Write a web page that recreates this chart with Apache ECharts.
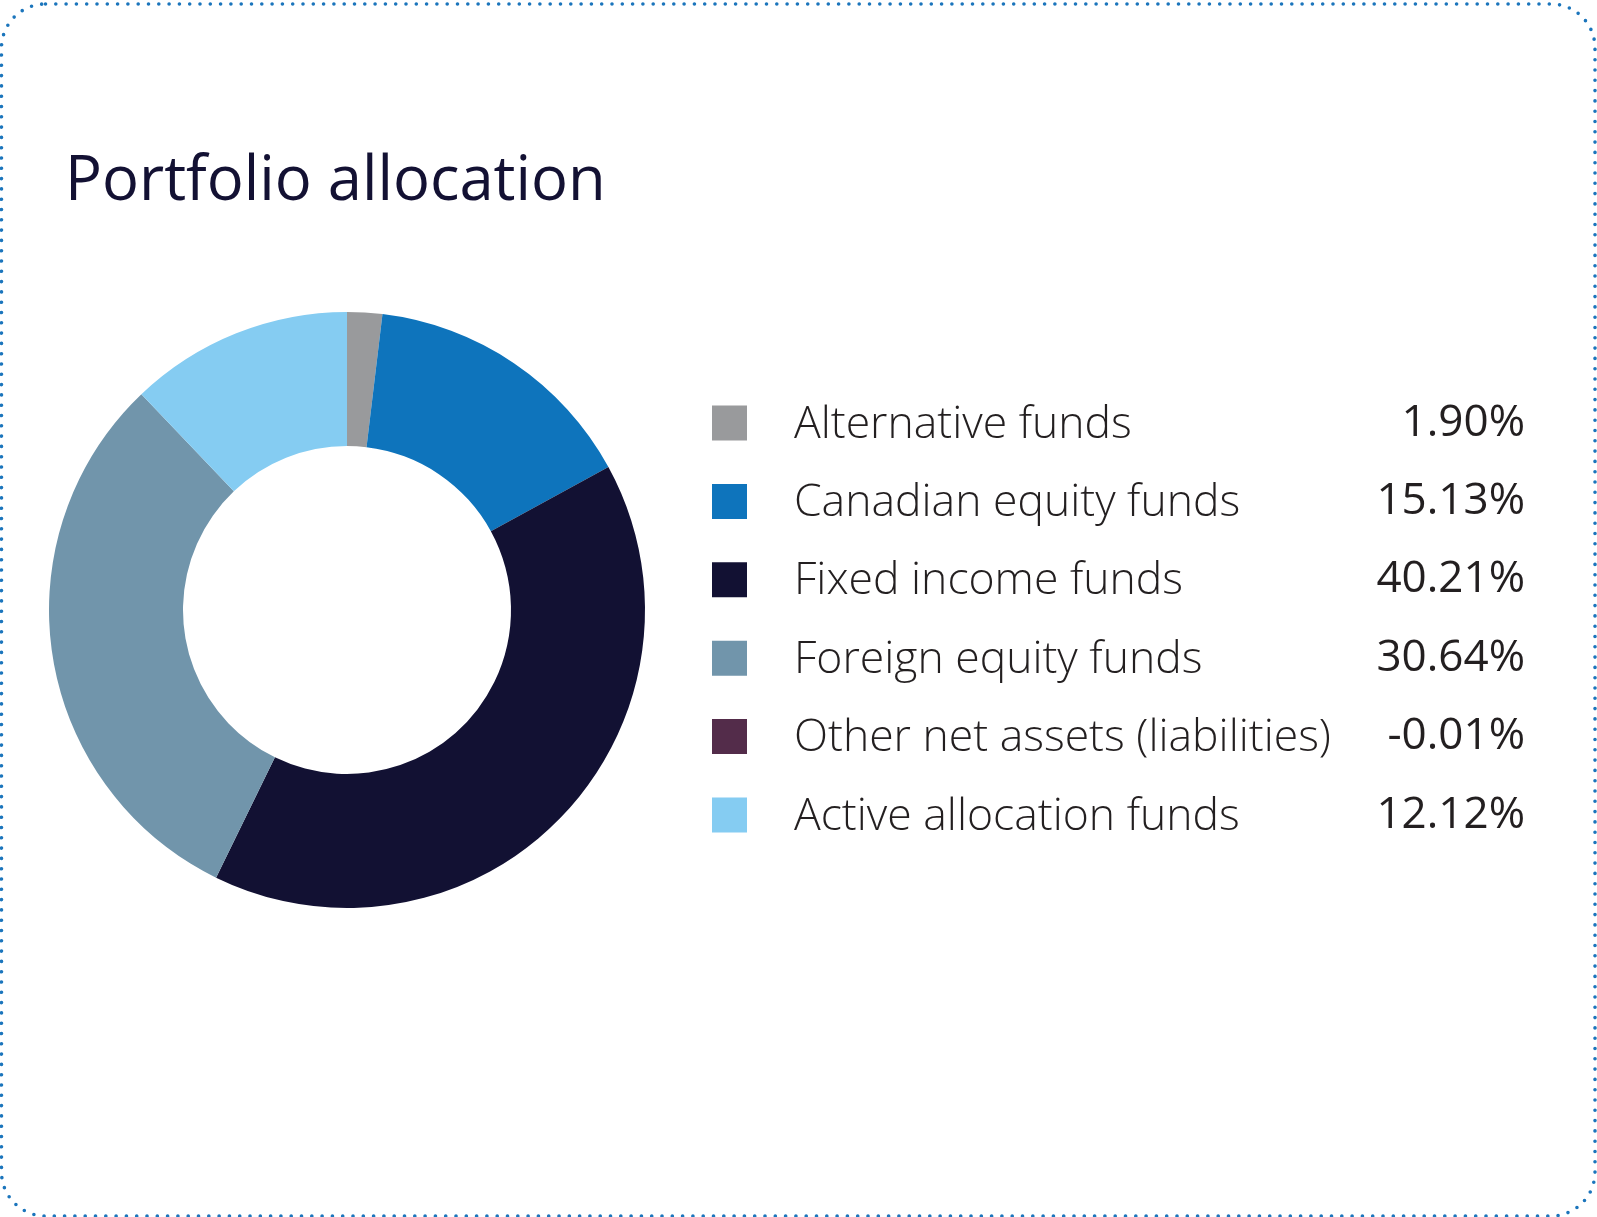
<!DOCTYPE html>
<html>
<head>
<meta charset="utf-8">
<title>Portfolio allocation</title>
<script src="https://cdn.jsdelivr.net/npm/echarts@6/dist/echarts.min.js"></script>
<style>
  html, body { margin: 0; padding: 0; background: #fff; }
  #chart { width: 1597px; height: 1217px; }
</style>
</head>
<body>
<div id="chart"></div>
<script>
// data
var categories = ['Alternative funds', 'Canadian equity funds', 'Fixed income funds',
                  'Foreign equity funds', 'Other net assets (liabilities)', 'Active allocation funds'];
var weights = [1.90, 15.13, 40.21, 30.64, -0.01, 12.12];
var palette = ['#999a9c', '#0e74bc', '#121133', '#7195ab', '#532c4a', '#85ccf2'];

var chart = echarts.init(document.getElementById('chart'));

// negative weights can't be drawn as a slice, they only show in the legend
var pieData = categories.map(function (name, i) {
  return { name: name, value: Math.max(weights[i], 0), itemStyle: { color: palette[i] } };
});

var option = {
  animation: false,
  title: {
    text: 'Portfolio allocation',
    left: 65,
    top: 151,
    padding: 0,
    textStyle: {
      fontFamily: 'Open Sans',
      fontSize: 61.5,
      fontWeight: 400,
      color: '#131133'
    }
  },
  legend: {
    orient: 'vertical',
    left: 712,
    top: 401,
    padding: 0,
    itemWidth: 35,
    itemHeight: 35,
    itemGap: 31.9,
    icon: 'rect',
    selectedMode: false,
    data: categories,
    formatter: function (name) {
      var v = weights[categories.indexOf(name)].toFixed(2) + '%';
      return '{g| }{n|' + name + '}{v|' + v + '}';
    },
    textStyle: {
      rich: {
        g: { width: 42 },
        n: { width: 558, padding: [4, 0, 0, 0], fontFamily: 'Open Sans', fontSize: 44.5, fontWeight: 300, color: '#231f20' },
        v: { width: 173, align: 'right', fontFamily: 'Open Sans', fontSize: 44, fontWeight: 400, color: '#231f20' }
      }
    }
  },
  graphic: [{
    type: 'rect',
    silent: true,
    shape: { x: 1.5, y: 4, width: 1593.5, height: 1212, r: 44 },
    style: { fill: null, stroke: '#1b75bc', lineWidth: 3.6, lineDash: [0, 10.3], lineCap: 'round' }
  }],
  series: [{
    type: 'pie',
    center: [347, 610],
    radius: [164, 298],
    startAngle: 90,
    clockwise: true,
    label: { show: false },
    labelLine: { show: false },
    emphasis: { disabled: true },
    itemStyle: { borderWidth: 0 },
    data: pieData
  }]
};

chart.setOption(option);
</script>
</body>
</html>
